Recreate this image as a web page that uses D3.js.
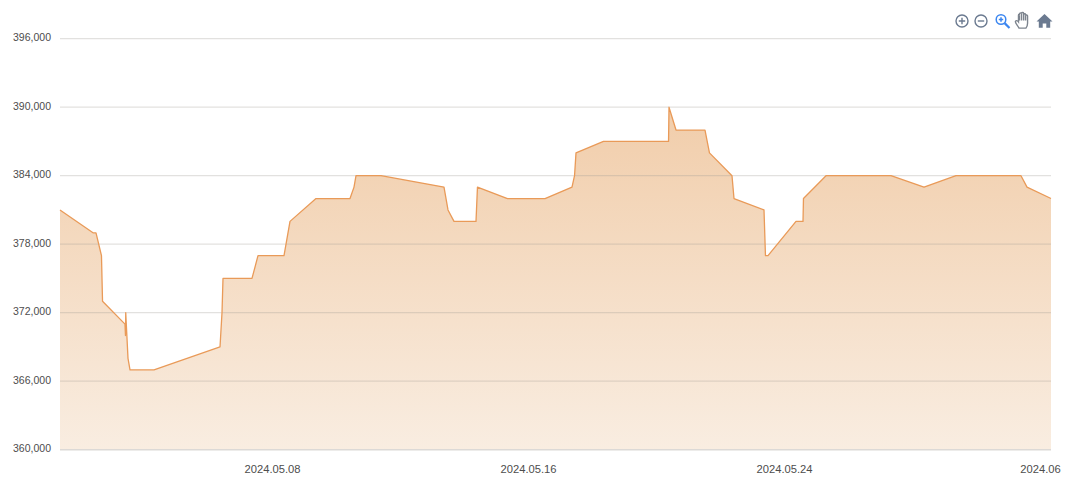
<!DOCTYPE html>
<html><head><meta charset="utf-8">
<script src="https://cdn.jsdelivr.net/npm/d3@7/dist/d3.min.js"></script>
<style>html,body{margin:0;padding:0;background:#fff;overflow:hidden}svg{display:block}
text{font-family:"Liberation Sans",Arial,sans-serif;font-size:11px;fill:#4d4d4d}</style>
</head><body><svg id="c" width="1080" height="487"></svg>
<script>
// hours elapsed since 2024-05-01 00:00
const hoursSinceStart=[9,33.75,36,40.1,40.9,57.75,58.1,58.3,60,61.5,79.5,129,130.5,131.25,153,157.5,177,181.5,201,226.5,229.5,231,249.75,297,300,304.5,321,322.1,344.6,372.75,393,394.9,396,416.6,465.4,465.75,471,492.75,496.1,513,514.5,537,538.1,540,561,566.25,566.6,583.5,632.25,657,681,729.75,734.25,752.25];
const prices=[381000,379000,379000,377000,373000,371000,370000,372000,368000,367000,367000,369000,372000,375000,375000,377000,377000,380000,382000,382000,383000,384000,384000,383000,381000,380000,380000,383000,382000,382000,383000,384000,386000,387000,387000,390000,388000,388000,386000,384000,382000,381000,377000,377000,380000,380000,382000,384000,384000,383000,384000,384000,383000,382000];
const yTicks=[360000,366000,372000,378000,384000,390000,396000];
const xTickDates=["2024-05-08","2024-05-16","2024-05-24","2024-06-01"];
const xTickLabels=["2024.05.08","2024.05.16","2024.05.24","2024.06"];

const start=new Date(2024,4,1).getTime();
const toDate=h=>new Date(start+h*3600000);
const parseDay=d3.timeParse("%Y-%m-%d");
const L=60,R=1051,T=38.7,B=449.7;
const x=d3.scaleTime().domain([toDate(9),toDate(752.25)]).range([L,R]);
const y=d3.scaleLinear().domain([360000,396000]).range([B,T]);
const pts=hoursSinceStart.map((h,i)=>({d:toDate(h),v:prices[i]}));
const svg=d3.select("#c");

const defs=svg.append("defs");
const g=defs.append("linearGradient").attr("id","fill").attr("gradientUnits","userSpaceOnUse")
  .attr("x1",0).attr("x2",0).attr("y1",y(390000)).attr("y2",B);
g.append("stop").attr("offset",0).attr("stop-color","#f1cdaa");
g.append("stop").attr("offset",1).attr("stop-color","#f9ede1");

// y labels
const yAxis=d3.axisLeft(y).tickValues(yTicks).tickSize(0).tickPadding(9).tickFormat(d3.format(","));
const yg=svg.append("g").attr("transform",`translate(${L},0)`).call(yAxis);
yg.select(".domain").remove();
yg.selectAll("text").attr("dy","0.2em").style("font-size","10.5px");

// area and line
svg.append("path").datum(pts).attr("fill","url(#fill)")
  .attr("d",d3.area().x(p=>x(p.d)).y0(B).y1(p=>y(p.v)));
svg.append("g").selectAll("line").data(yTicks).join("line")
  .attr("x1",L).attr("x2",R).attr("y1",d=>y(d)).attr("y2",d=>y(d))
  .attr("stroke",d=>d===360000?"#dcd9d6":"#a09a94").attr("stroke-opacity",d=>d===360000?1:0.3).attr("stroke-width",d=>d===360000?1.5:1.2);
svg.append("path").datum(pts).attr("fill","none").attr("stroke","#e99a58").attr("stroke-width",1.3)
  .attr("stroke-linejoin","round").attr("d",d3.line().x(p=>x(p.d)).y(p=>y(p.v)));

// x axis
const xAxis=d3.axisBottom(x).tickValues(xTickDates.map(parseDay)).tickSize(0).tickPadding(15)
  .tickFormat((d,i)=>xTickLabels[i]);
const xg=svg.append("g").attr("transform",`translate(0,${B})`).call(xAxis);
xg.select(".domain").remove();
xg.selectAll("text").attr("dy","0.71em").style("font-size","11.2px");

// toolbar
const tb=svg.append("g").attr("fill","none");
const grey="#6b7a90",blue="#3b86f0",handGrey="#7d848e";
const plus=tb.append("g").attr("transform","translate(962,21)").attr("stroke",grey).attr("stroke-width",1.4);
plus.append("circle").attr("r",6);
plus.append("path").attr("d","M-3.2,0H3.2M0,-3.2V3.2");
const minus=tb.append("g").attr("transform","translate(981,21)").attr("stroke",grey).attr("stroke-width",1.4);
minus.append("circle").attr("r",6);
minus.append("path").attr("d","M-3.2,0H3.2");
const zoom=tb.append("g").attr("transform","translate(1001,19.5)").attr("stroke",blue).attr("stroke-width",1.5);
zoom.append("circle").attr("r",4.8);
zoom.append("path").attr("d","M-2.2,0H2.2M0,-2.2V2.2");
zoom.append("path").attr("d","M3.6,3.6L8.5,8.5").attr("stroke-width",2.2);
const hand=tb.append("g").attr("transform","translate(1022.5,21) scale(1.15)").attr("stroke",handGrey);
hand.append("path").attr("stroke-width",1.2).attr("fill","#fff")
  .attr("d","M-3,6.2C-4,4 -6,2.5 -6.2,0.5C-6,-0.8 -4.5,-0.6 -3.5,0.8V-5C-3.5,-6.2 -2.7,-6.2 -2.6,-5V-6.2C-2.5,-7.3 -0.9,-7.3 -0.8,-6.2V-6.6C-0.7,-7.6 0.9,-7.6 1,-6.6V-5.6C1.1,-6.6 2.6,-6.6 2.7,-5.6V-4.6C2.8,-5.4 4.3,-5.4 4.4,-4.4V2C4.4,4 3.6,5.4 3,6.2Z");
hand.append("path").attr("stroke-width",1.2)
  .attr("d","M-2.6,-5V-0.5M-0.8,-6V-0.5M1,-6V-0.5M2.7,-5V-0.5");
tb.append("path").attr("transform","translate(1044.5,21)").attr("fill",grey)
  .attr("d","M0,-7L8,0.5H5.7V6.8H1.8V2.5H-1.8V6.8H-5.7V0.5H-8Z");
</script></body></html>
